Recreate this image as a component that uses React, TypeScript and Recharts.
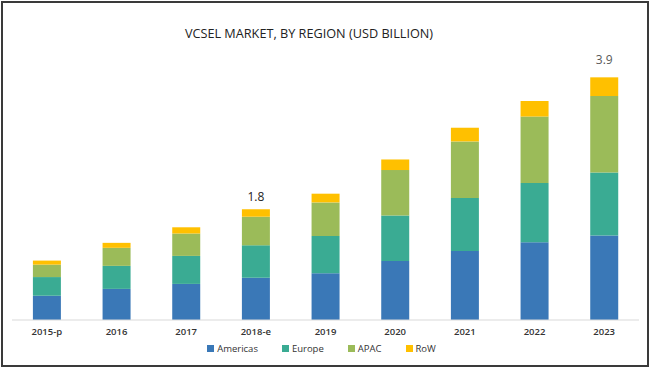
import React from "react";
import { BarChart, Bar, XAxis, YAxis, Legend, LabelList } from "recharts";

const years = ["2015-p", "2016", "2017", "2018-e", "2019", "2020", "2021", "2022", "2023"];
const americas = [0.39, 0.5, 0.58, 0.68, 0.75, 0.95, 1.11, 1.25, 1.36];
const europe = [0.3, 0.37, 0.45, 0.52, 0.6, 0.73, 0.85, 0.95, 1.01];
const apac = [0.2, 0.29, 0.36, 0.46, 0.54, 0.73, 0.91, 1.07, 1.23];
const row = [0.065, 0.08, 0.1, 0.12, 0.14, 0.17, 0.22, 0.25, 0.3];
const totals = ["", "", "", "1.8", "", "", "", "", "3.9"];

const series = [
  { key: "Americas", color: "#3a78b7", values: americas },
  { key: "Europe", color: "#3aab93", values: europe },
  { key: "APAC", color: "#9bbb59", values: apac },
  { key: "RoW", color: "#ffc000", values: row },
];

const data = years.map((y, i) => ({
  year: y,
  Americas: americas[i],
  Europe: europe[i],
  APAC: apac[i],
  RoW: row[i],
  total: totals[i],
}));

const FONT = "'Open Sans', sans-serif";

const TotalLabel = (props: any) => {
  const { x, y, width, value, index } = props;
  if (!value) return null;
  const last = index === years.length - 1;
  return (
    <text
      x={x + width / 2}
      y={y - (last ? 13 : 8)}
      textAnchor="middle"
      fontFamily={FONT}
      fontSize={12}
      fill={last ? "#595959" : "#222"}
    >
      {value}
    </text>
  );
};

const LegendContent = () => (
  <div
    style={{
      height: 26,
      display: "flex",
      justifyContent: "center",
      alignItems: "center",
      fontFamily: FONT,
      fontSize: 9.5,
      color: "#333",
      paddingRight: 8,
    }}
  >
    {series.map((s, i) => (
      <div key={s.key} style={{ display: "flex", alignItems: "center", marginRight: i < series.length - 1 ? 24 : 0 }}>
        <span style={{ width: 7, height: 7, background: s.color, display: "inline-block", marginRight: 3 }} />
        <span>{s.key}</span>
      </div>
    ))}
  </div>
);

export default function App() {
  return (
    <div style={{ position: "absolute", left: 0, top: 0, width: 650, height: 369, background: "#fff" }}>
      <svg width={650} height={369} style={{ position: "absolute", left: 0, top: 0 }}>
        <text x={309} y={38} textAnchor="middle" fontFamily={FONT} fontSize={12.7} fill="#222">
          VCSEL MARKET, BY REGION (USD BILLION)
        </text>
      </svg>
      <div style={{ position: "absolute", left: 0, top: 0 }}>
        <BarChart
          width={650}
          height={369}
          data={data}
          margin={{ top: 40, right: 11, left: 12, bottom: 0 }}
          barCategoryGap="30%"
        >
          <XAxis
            dataKey="year"
            axisLine={{ stroke: "#d9d9d9" }}
            tickLine={false}
            height={23}
            tick={{ fontFamily: FONT, fontSize: 9.5, fill: "#333", fontWeight: 600 }}
          />
          <YAxis hide domain={[0, 4.5]} />
          <Legend
            verticalAlign="bottom"
            height={26}
            wrapperStyle={{ bottom: 8 }}
            content={<LegendContent />}
          />
          {series.map((s) => (
            <Bar key={s.key} dataKey={s.key} stackId="a" fill={s.color} isAnimationActive={false}>
              {s.key === "RoW" ? <LabelList dataKey="total" content={<TotalLabel />} /> : null}
            </Bar>
          ))}
        </BarChart>
      </div>
      <div
        style={{
          position: "absolute",
          left: 1,
          top: 1,
          width: 648,
          height: 366,
          border: "2px solid #3a3a3a",
          boxSizing: "border-box",
          pointerEvents: "none",
        }}
      />
    </div>
  );
}
